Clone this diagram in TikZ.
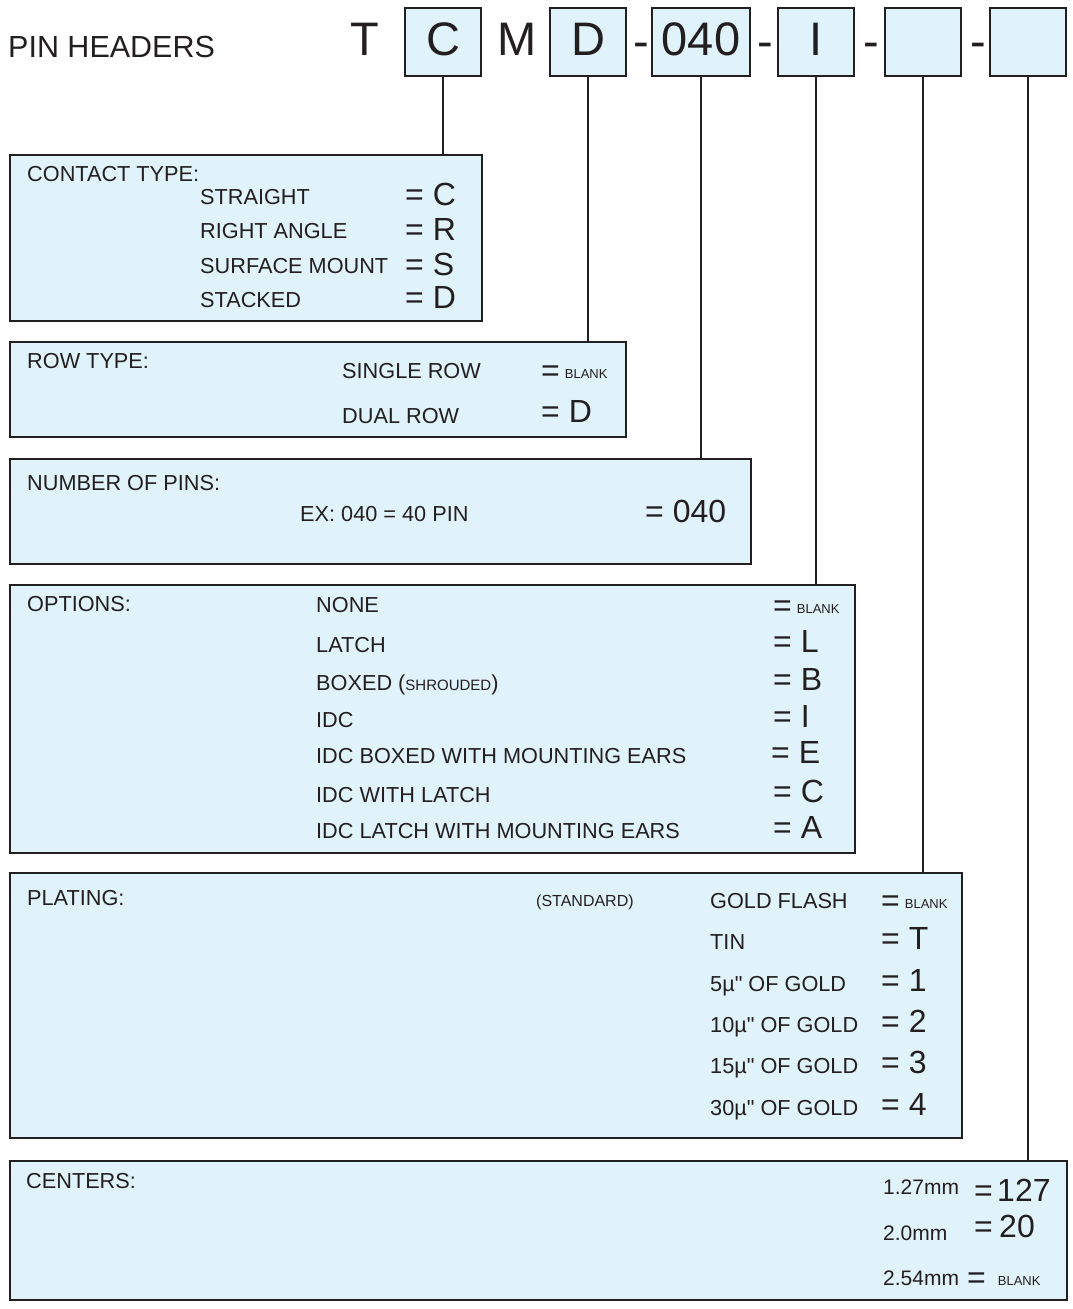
\documentclass[tikz,border=0pt]{standalone}
\usepackage{fontspec}
\setmainfont{Liberation Sans}
\definecolor{boxfill}{RGB}{224,242,250}
\definecolor{ink}{RGB}{35,31,32}
\begin{document}
\begin{tikzpicture}[x=1pt,y=-1pt,
  box/.style={draw=ink, fill=boxfill, line width=2.4pt, rectangle, inner sep=0, outer sep=0, anchor=north west},
  conn/.style={draw=ink, line width=2pt},
  lbl/.style={anchor=base west, inner sep=0, text=ink, font=\fontsize{21.7}{25}\selectfont},
  cmm/.style={anchor=base west, inner sep=0, text=ink, font=\fontsize{21}{25}\selectfont},
  big/.style={anchor=base west, inner sep=0, text=ink, font=\fontsize{32}{36}\selectfont},
  std/.style={anchor=base west, inner sep=0, text=ink, font=\fontsize{16}{18}\selectfont},
  code/.style={anchor=base, inner sep=0, text=ink, font=\fontsize{47}{50}\selectfont},
  title/.style={anchor=base west, inner sep=0, text=ink, font=\fontsize{30.5}{34}\selectfont}]
\useasboundingbox (0,0) rectangle (1072,1309);
\newcommand\eqblank[1][5pt]{\raisebox{-3pt}{=}\hspace{#1}{\fontsize{13}{15}\selectfont BLANK}}
% title and part number
\node[title] (title) at (8,57) {PIN HEADERS};
\node[code] (cT) at (365,55) {T};
\node[box, minimum width=76, minimum height=68] (bC) at (405,8) {};
\node[code] (cC) at (bC.center |- 0,55) {C};
\node[code] (cM) at (517,55) {M};
\node[box, minimum width=76, minimum height=68] (bD) at (550,8) {};
\node[code] (cD) at (bD.center |- 0,55) {D};
\node[code] (d1) at (641,57) {-};
\node[box, minimum width=98, minimum height=68] (bN) at (652,8) {};
\node[code] (cN) at (bN.center |- 0,55) {040};
\node[code] (d2) at (765,57) {-};
\node[box, minimum width=76, minimum height=68] (bI) at (778,8) {};
\node[code] (cI) at (bI.center |- 0,55) {I};
\node[code] (d3) at (871,57) {-};
\node[box, minimum width=76, minimum height=68] (bP) at (885,8) {};
\node[code] (d4) at (978,57) {-};
\node[box, minimum width=76, minimum height=68] (bS) at (990,8) {};
% lower boxes
\node[box, minimum width=472, minimum height=166] (contact) at (10,155) {};
\node[box, minimum width=616, minimum height=95] (row) at (10,342) {};
\node[box, minimum width=741, minimum height=105] (pins) at (10,459) {};
\node[box, minimum width=845, minimum height=268] (opt) at (10,585) {};
\node[box, minimum width=952, minimum height=265] (plate) at (10,873) {};
\node[box, minimum width=1057, minimum height=139] (cent) at (10,1161) {};
% connectors
\draw[conn] (bC.south) -- (bC.south |- contact.north);
\draw[conn] (bD.south) -- (bD.south |- row.north);
\draw[conn] (bN.south) -- (bN.south |- pins.north);
\draw[conn] (bI.south) -- (bI.south |- opt.north);
\draw[conn] (bP.south) -- (bP.south |- plate.north);
\draw[conn] (bS.south) -- (bS.south |- cent.north);
% contact type
\node[lbl] (ctt) at (27,181) {CONTACT TYPE:};
\node[lbl] (ct1) at (200,204) {STRAIGHT};
\node[lbl] (ct2) at (200,238) {RIGHT ANGLE};
\node[lbl] (ct3) at (200,273) {SURFACE MOUNT};
\node[lbl] (ct4) at (200,307) {STACKED};
\node[big] (cv1) at (405,205) {= C};
\node[big] (cv2) at (405,240) {= R};
\node[big] (cv3) at (405,275) {= S};
\node[big] (cv4) at (405,308) {= D};
% row type
\node[lbl] (rtt) at (27,368) {ROW TYPE:};
\node[lbl] (rt1) at (342,378) {SINGLE ROW};
\node[lbl] (rt2) at (342,423) {DUAL ROW};
\node[big] (rv1) at (541,378) {\eqblank};
\node[big] (rv2) at (541,422) {= D};
% number of pins
\node[lbl] (npt) at (27,490) {NUMBER OF PINS:};
\node[lbl] (np1) at (300,521) {EX: 040 = 40 PIN};
\node[big] (nv1) at (645,522) {= 040};
% options
\node[lbl] (opt0) at (27,611) {OPTIONS:};
\node[lbl] (op1) at (316,612) {NONE};
\node[lbl] (op2) at (316,652) {LATCH};
\node[lbl] (op3) at (316,690) {BOXED ({\fontsize{15}{17}\selectfont SHROUDED})};
\node[lbl] (op4) at (316,727) {IDC};
\node[lbl] (op5) at (316,763) {IDC BOXED WITH MOUNTING EARS};
\node[lbl] (op6) at (316,802) {IDC WITH LATCH};
\node[lbl] (op7) at (316,838) {IDC LATCH WITH MOUNTING EARS};
\node[big] (ov1) at (773,613) {\eqblank};
\node[big] (ov2) at (773,652) {= L};
\node[big] (ov3) at (773,690) {= B};
\node[big] (ov4) at (773,727) {= I};
\node[big] (ov5) at (771,763) {= E};
\node[big] (ov6) at (773,802) {= C};
\node[big] (ov7) at (773,838) {= A};
% plating
\node[lbl] (plt0) at (27,905) {PLATING:};
\node[std] (pstd) at (536,906) {(STANDARD)};
\node[lbl] (pl1) at (710,908) {GOLD FLASH};
\node[lbl] (pl2) at (710,949) {TIN};
\node[lbl] (pl3) at (710,991) {5µ\textquotedbl{} OF GOLD};
\node[lbl] (pl4) at (710,1032) {10µ\textquotedbl{} OF GOLD};
\node[lbl] (pl5) at (710,1073) {15µ\textquotedbl{} OF GOLD};
\node[lbl] (pl6) at (710,1115) {30µ\textquotedbl{} OF GOLD};
\node[big] (pv1) at (881,908) {\eqblank};
\node[big] (pv2) at (881,949) {= T};
\node[big] (pv3) at (881,991) {= 1};
\node[big] (pv4) at (881,1032) {= 2};
\node[big] (pv5) at (881,1073) {= 3};
\node[big] (pv6) at (881,1115) {= 4};
% centers
\node[lbl] (cnt0) at (26,1188) {CENTERS:};
\node[cmm] (cn1) at (883,1194) {1.27mm};
\node[cmm] (cn2) at (883,1240) {2.0mm};
\node[cmm] (cn3) at (883,1285) {2.54mm};
\node[big] (ce1) at (974,1201) {=};
\node[big] (cw1) at (997,1201) {127};
\node[big] (ce2) at (974,1237) {=};
\node[big] (cw2) at (999,1237) {20};
\node[big] (cv3b) at (967,1285) {\eqblank[12pt]};
\end{tikzpicture}
\end{document}
